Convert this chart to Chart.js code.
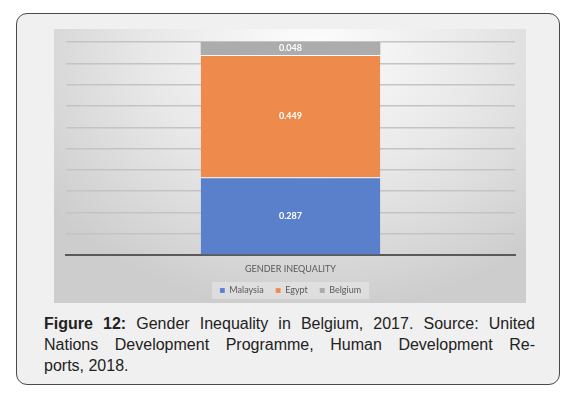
<!DOCTYPE html>
<html>
<head>
<meta charset="utf-8">
<script src="https://cdn.jsdelivr.net/npm/chart.js@4/dist/chart.umd.min.js"></script>
<style>
  body { margin: 0; background: #fff; width: 572px; height: 393px; position: relative; }
  .frame {
    position: absolute; left: 16px; top: 13px; width: 542px; height: 370px;
    border: 1.5px solid #4a4a4a; border-radius: 11px; background: #f0f0f0;
  }
  .plotbg {
    position: absolute; left: 54px; top: 29px; width: 472px; height: 274px;
    background: radial-gradient(ellipse 70% 95% at 55% 8%, #fdfdfd 0%, #e8e8e8 50%, #cdcdcd 100%);
  }
  canvas { position: absolute; left: 0; top: 0; }
  .caption {
    position: absolute; left: 44px; top: 313px; width: 491px;
    font-family: "Liberation Sans", Arial, sans-serif; font-size: 16px; line-height: 21px;
    color: #222;
  }
  .caption div { text-align: justify; text-align-last: justify; white-space: nowrap; }
  .caption div.last { text-align-last: left; }
</style>
</head>
<body>
<div class="frame"></div>
<div class="plotbg"><canvas id="c" width="472" height="274"></canvas></div>
<div class="caption">
  <div><b>Figure 12:</b> Gender Inequality in Belgium, 2017. Source: United</div>
  <div>Nations Development Programme, Human Development Re-</div>
  <div class="last">ports, 2018.</div>
</div>
<script>
const categories = ["GENDER INEQUALITY"];
const seriesNames = ["Malaysia", "Egypt", "Belgium"];
const malaysia = [0.287];
const egypt = [0.449];
const belgium = [0.048];
const colors = ["#5a80cc", "#ee8b4c", "#acacac"];

const total = malaysia[0] + egypt[0] + belgium[0];

const valueLabels = {
  id: "valueLabels",
  afterDatasetsDraw(chart) {
    const ctx = chart.ctx;
    ctx.save();
    ctx.fillStyle = "#ffffff";
    ctx.font = "bold 9px Lato, 'Open Sans', sans-serif";
    ctx.textAlign = "center";
    ctx.textBaseline = "middle";
    chart.data.datasets.forEach((ds, i) => {
      chart.getDatasetMeta(i).data.forEach((bar, j) => {
        ctx.fillText(ds.data[j].toFixed(3), bar.x, (bar.y + bar.base) / 2);
      });
    });
    ctx.restore();
  }
};

// faint lighter panel behind the legend, like the original
const legendBg = {
  id: "legendBg",
  beforeDraw(chart) {
    const boxes = chart.legend && chart.legend.legendHitBoxes;
    if (!boxes || !boxes.length) return;
    const left = Math.min(...boxes.map(b => b.left)) - 8;
    const right = Math.max(...boxes.map(b => b.left + b.width)) + 8;
    const top = Math.min(...boxes.map(b => b.top)) - 4;
    const bottom = Math.max(...boxes.map(b => b.top + b.height)) + 4;
    const ctx = chart.ctx;
    ctx.save();
    ctx.fillStyle = "rgba(255,255,255,0.3)";
    ctx.fillRect(left, top, right - left, bottom - top);
    ctx.restore();
  }
};

const sep = { top: 1, left: 0, right: 0, bottom: 0 };

new Chart(document.getElementById("c"), {
  type: "bar",
  data: {
    labels: categories,
    datasets: [
      { label: seriesNames[0], data: malaysia, backgroundColor: colors[0], borderColor: "rgba(255,255,255,0.5)", borderWidth: sep },
      { label: seriesNames[1], data: egypt, backgroundColor: colors[1], borderColor: "rgba(255,255,255,0.5)", borderWidth: sep },
      { label: seriesNames[2], data: belgium, backgroundColor: colors[2], borderWidth: 0 }
    ]
  },
  options: {
    responsive: false,
    animation: false,
    layout: { padding: { top: 13, left: 12, right: 11, bottom: -2 } },
    datasets: { bar: { barPercentage: 0.4, categoryPercentage: 1, borderSkipped: false } },
    scales: {
      x: {
        stacked: true,
        grid: { display: false },
        border: { display: true, color: "#5a5a5a", width: 2 },
        ticks: { color: "#595959", font: { family: "Lato, 'Open Sans', sans-serif", size: 9 }, padding: 0 }
      },
      y: {
        stacked: true,
        min: 0,
        max: total,
        ticks: { display: false, count: 11 },
        grid: { color: "#c4c4c4", lineWidth: 1.5, drawTicks: false },
        border: { display: false }
      }
    },
    plugins: {
      legend: {
        position: "bottom",
        labels: {
          boxWidth: 5, boxHeight: 5, padding: 12,
          color: "#595959",
          font: { family: "Lato, 'Open Sans', sans-serif", size: 9 }
        }
      },
      tooltip: { enabled: false }
    }
  },
  plugins: [valueLabels, legendBg]
});
</script>
</body>
</html>
